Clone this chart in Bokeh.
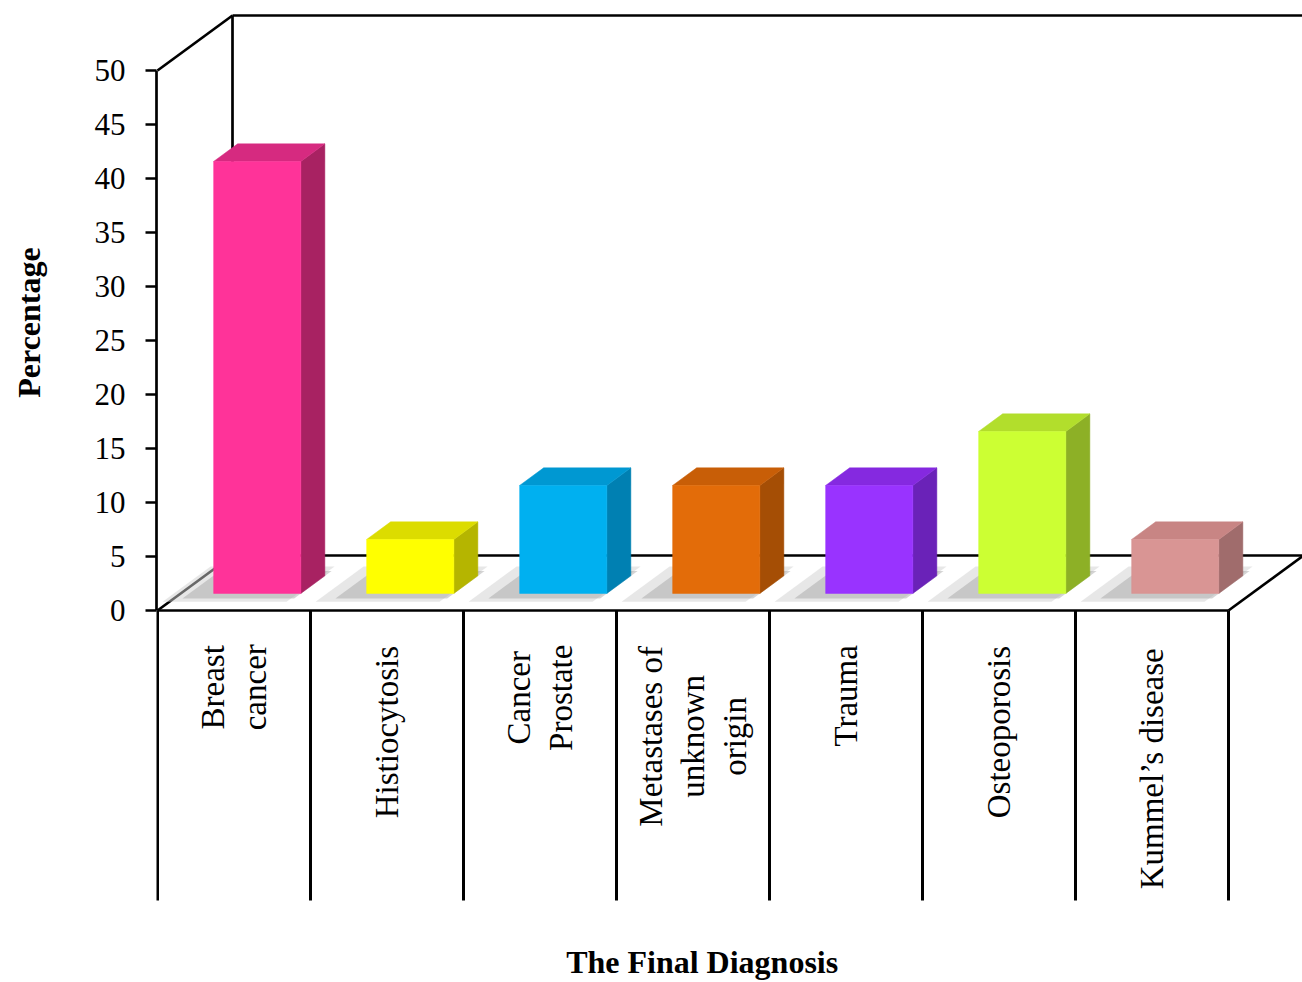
import math
from bokeh.plotting import figure
from bokeh.layouts import row
from bokeh.models import Range1d, LinearAxis, FixedTicker
from bokeh.core.properties import value
from bokeh.embed import file_html
from bokeh.resources import INLINE

# ---------------- data ----------------
categories = ["Breast cancer", "Histiocytosis", "Cancer Prostate",
              "Metastases of unknown origin", "Trauma", "Osteoporosis",
              "Kummel\u2019s disease"]
label_lines = [["Breast", "cancer"], ["Histiocytosis"], ["Cancer", "Prostate"],
               ["Metastases of", "unknown", "origin"], ["Trauma"],
               ["Osteoporosis"], ["Kummel\u2019s disease"]]
percentages = [40, 5, 10, 10, 10, 15, 5]
front_colors = ["#FF3399", "#FFFF00", "#00B0F0", "#E36C09", "#9933FF", "#CCFF33", "#D99594"]
side_colors = ["#A82262", "#B5B500", "#0080B2", "#A54E05", "#6A22B8", "#8DB026", "#A06C6C"]
top_colors = ["#D62A80", "#DCDC00", "#0098D2", "#C85E07", "#8529E0", "#B2DE2C", "#C88584"]
y_ticks = [0, 5, 10, 15, 20, 25, 30, 35, 40, 45, 50]
x_title = "The Final Diagnosis"
y_title = "Percentage"

# ---------------- layout constants ----------------
PX_X = 153.0      # pixels per category
PX_Y = 10.8       # pixels per percent
X0_PX = 157.0     # pixel of category boundary 0
Y0_PX = 610.0     # pixel of value 0 (front plane)
W, H = 1302, 982
LEFT_W = 60       # width of the strip holding the y title
DX = 75.0 / PX_X  # depth offset (x)
DY = 55.0 / PX_Y  # depth offset (y)
F_FRONT = 0.31    # depth fraction of bar front face
G_DEPTH = 0.32    # bar depth fraction
BAR_W = 0.57
n = len(categories)
YMAX = y_ticks[-1]

x_start = -1.0 / PX_X
x_end = (W - X0_PX) / PX_X
y_start = -(H - Y0_PX) / PX_Y
y_end = Y0_PX / PX_Y

p = figure(width=W - LEFT_W, height=H, x_range=Range1d(x_start, x_end),
           y_range=Range1d(y_start, y_end),
           output_backend="svg", toolbar_location=None,
           x_axis_location=None, y_axis_location=None,
           min_border_left=156 - LEFT_W, min_border_right=0, min_border_top=0, min_border_bottom=0)
p.outline_line_color = None
p.background_fill_color = "white"
p.border_fill_color = "white"
p.xgrid.visible = False
p.ygrid.visible = False

yaxis = LinearAxis(ticker=FixedTicker(ticks=y_ticks), bounds=(0, YMAX))
yaxis.axis_line_width = 2.7
yaxis.axis_line_color = "black"
yaxis.major_tick_line_width = 2.5
yaxis.major_tick_line_color = "black"
yaxis.major_tick_out = 11
yaxis.major_tick_in = 0
yaxis.minor_tick_out = 0
yaxis.minor_tick_in = 0
yaxis.major_label_standoff = 20
yaxis.major_label_text_font = "Liberation Serif"
yaxis.major_label_text_font_size = "31px"
yaxis.major_label_text_color = "black"
p.add_layout(yaxis, "left")

LW = 2.7
# walls / floor
seg_x0 = [0, n, DX, 0, DX, 0, DX]
seg_y0 = [0, 0, DY, 0, DY, YMAX, YMAX + DY]
seg_x1 = [n, n + DX, x_end, DX, DX, DX, x_end]
seg_y1 = [0, DY, DY, DY, YMAX + DY, YMAX + DY, YMAX + DY]
p.segment(seg_x0, seg_y0, seg_x1, seg_y1, line_color="black", line_width=LW)

# category separators
SEP_BOTTOM = -(900 - Y0_PX) / PX_Y
sep_x = list(range(n + 1))
p.segment(sep_x, [0] * len(sep_x), sep_x, [SEP_BOTTOM] * len(sep_x), line_color="black", line_width=3)

# floor shadows
sh_xs, sh_ys = [], []
for i, v in enumerate(percentages):
    xl = i + 0.5 - BAR_W / 2 - 0.26
    xr = i + 0.5 + BAR_W / 2 - 0.02
    t0, t1 = 0.16, 0.8
    sh_xs.append([xl + t0 * DX, xr + t0 * DX, xr + t1 * DX, xl + t1 * DX])
    sh_ys.append([t0 * DY, t0 * DY, t1 * DY, t1 * DY])
p.patches(sh_xs, sh_ys, fill_color="#CFCFCF", fill_alpha=0.5, line_color=None)
sh2_xs, sh2_ys = [], []
for i, v in enumerate(percentages):
    xl = i + 0.5 - BAR_W / 2 - 0.16
    xr = i + 0.5 + BAR_W / 2
    t0, t1 = 0.22, 0.72
    sh2_xs.append([xl + t0 * DX, xr + t0 * DX, xr + t1 * DX, xl + t1 * DX])
    sh2_ys.append([t0 * DY, t0 * DY, t1 * DY, t1 * DY])
p.patches(sh2_xs, sh2_ys, fill_color="#A0A0A0", fill_alpha=0.45, line_color=None)

# bars
fx, fy, sx, sy, tx, ty = [], [], [], [], [], []
for i, v in enumerate(percentages):
    xc = i + 0.5 + F_FRONT * DX
    xl, xr = xc - BAR_W / 2, xc + BAR_W / 2
    y0 = F_FRONT * DY
    y1 = y0 + v
    gx, gy = G_DEPTH * DX, G_DEPTH * DY
    fx.append([xl, xr, xr, xl]); fy.append([y0, y0, y1, y1])
    sx.append([xr, xr + gx, xr + gx, xr]); sy.append([y0, y0 + gy, y1 + gy, y1])
    tx.append([xl, xr, xr + gx, xl + gx]); ty.append([y1, y1, y1 + gy, y1 + gy])
p.patches(sx, sy, fill_color=side_colors, line_color=side_colors, line_width=0.5)
p.patches(tx, ty, fill_color=top_colors, line_color=top_colors, line_width=0.5)
p.patches(fx, fy, fill_color=front_colors, line_color=front_colors, line_width=0.5)

# category labels (rotated), lines centred in a block anchored at the top
TIMES = {' ': 250, 'a': 444, 'b': 500, 'c': 444, 'd': 500, 'e': 444, 'f': 333, 'g': 500,
         'h': 500, 'i': 278, 'j': 278, 'k': 500, 'l': 278, 'm': 778, 'n': 500, 'o': 500,
         'p': 500, 'q': 500, 'r': 333, 's': 389, 't': 278, 'u': 500, 'v': 500, 'w': 722,
         'x': 500, 'y': 500, 'z': 444, 'B': 667, 'C': 667, 'H': 722, 'K': 722, 'M': 889,
         'O': 722, 'P': 556, 'T': 611, '\u2019': 333}
CAT_FS = 33
def text_len_px(s, fs):
    return sum(TIMES.get(c, 500) for c in s) / 1000.0 * fs * 1.04

LABEL_TOP = -(642 - Y0_PX) / PX_Y
LINE_SP = 42.0 / PX_X
lx, ly, lt = [], [], []
for i, lines in enumerate(label_lines):
    k = len(lines)
    lmax = max(text_len_px(s, CAT_FS) for s in lines) / PX_Y
    for j, s in enumerate(lines):
        lx.append(i + 0.5 + (j - (k - 1) / 2.0) * LINE_SP)
        ly.append(LABEL_TOP - lmax / 2.0)
        lt.append(s)
p.text(x=lx, y=ly, text=lt, angle=math.pi / 2, text_align="center", text_baseline="middle",
       text_font=value("Liberation Serif"), text_font_size="%dpx" % CAT_FS, text_color="black")

# x title
TITLE_Y = -(961 - Y0_PX) / PX_Y
p.text(x=[n / 2.0 + 0.06], y=[TITLE_Y], text=[x_title], text_align="center", text_baseline="middle",
       text_font=value("Liberation Serif"), text_font_style="bold", text_font_size="32px",
       text_color="black")

# y title strip (left)
q = figure(width=LEFT_W, height=H, x_range=Range1d(0, LEFT_W), y_range=Range1d(y_start, y_end),
           output_backend="svg", toolbar_location=None,
           x_axis_location=None, y_axis_location=None,
           min_border_left=0, min_border_right=0, min_border_top=0, min_border_bottom=0)
q.outline_line_color = None
q.background_fill_color = "white"
q.border_fill_color = "white"
q.xgrid.visible = False
q.ygrid.visible = False
q.text(x=[28], y=[(Y0_PX - 322) / PX_Y], text=[y_title], angle=math.pi / 2,
       text_align="center", text_baseline="middle",
       text_font=value("Liberation Serif"), text_font_style="bold", text_font_size="32px",
       text_color="black")

layout = row(q, p, spacing=0)
open("out.html", "w").write(file_html(layout, INLINE))
